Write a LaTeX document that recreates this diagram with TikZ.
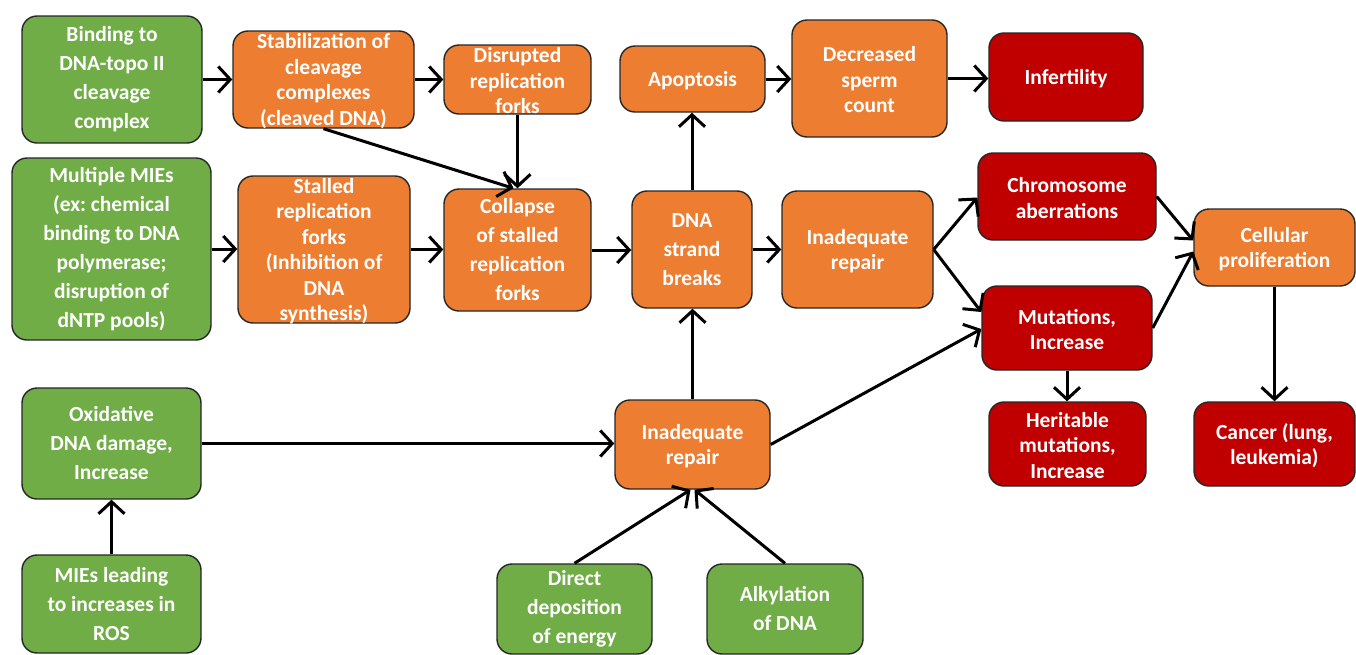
\documentclass[tikz,border=0pt]{standalone}
\usepackage{fontspec}
\setmainfont{Carlito}
\usetikzlibrary{arrows.meta}
\definecolor{grn}{HTML}{70AD47}
\definecolor{org}{HTML}{ED7D31}
\definecolor{rd}{HTML}{C00000}
\frenchspacing
\tikzset{
  box/.style={draw=black!85, line width=1.4pt, rounded corners=15pt, text=white,
    align=center, inner sep=0pt, font=\bfseries\fontsize{21.5}{25.5}\selectfont,
    tshift/.initial=-1.5pt},
  wide/.style={font=\bfseries\fontsize{21.5}{29}\selectfont},
  gbox/.style={box, fill=grn, wide, tshift=0pt},
  obox/.style={box, fill=org},
  rbox/.style={box, fill=rd},
  arr/.style={line width=3pt, -{Straight Barb[length=12pt,width=26pt]}},
}
% \bx{name}{style}{x1}{y1}{x2}{y2}{text}: box given by its corners,
% with its label set as a separate node named <name>-t
\newcommand\bx[7]{%
  \node[#2, minimum width={(#5-#3)*1pt}, minimum height={(#6-#4)*1pt}]
    (#1) at ({(#3+#5)/2},{(#4+#6)/2}) {};
  \node[#2, draw=none, fill=none, rounded corners=0pt,
    yshift=\pgfkeysvalueof{/tikz/tshift}] (#1-t) at (#1.center) {#7};}
\begin{document}
\begin{tikzpicture}[x=1pt,y=-1pt]
\useasboundingbox (0,0) rectangle (1356,654);
\clip (0,0) rectangle (1356,654);
% boxes
\bx{bind}{gbox}{22}{16}{202}{143}{Binding to\\DNA-topo II\\cleavage\\complex}
\bx{stab}{obox}{233}{31}{414}{128}{Stabilization of\\cleavage\\complexes\\(cleaved DNA)}
\bx{disr}{obox}{444}{45}{591}{114}{Disrupted\\replication\\forks}
\bx{apop}{obox}{620}{46}{765}{112}{Apoptosis}
\bx{sperm}{obox}{792}{20}{947}{137}{Decreased\\sperm\\count}
\bx{infer}{rbox}{989}{33}{1143}{121}{Infertility}
\bx{multi}{gbox}{12}{158}{211}{340}{Multiple MIEs\\(ex: chemical\\binding to DNA\\polymerase;\\disruption of\\dNTP pools)}
\bx{stall}{obox}{238}{176}{410}{323}{Stalled\\replication\\forks\\(Inhibition of\\DNA\\synthesis)}
\bx{coll}{obox,wide,tshift=0pt}{444}{189}{591}{311}{Collapse\\of stalled\\replication\\forks}
\bx{dsb}{obox,wide,tshift=0pt}{632}{191}{752}{308}{DNA\\strand\\breaks}
\bx{inad}{obox}{782}{191}{933}{308}{Inadequate\\repair}
\bx{chrom}{rbox}{978}{153}{1156}{240}{Chromosome\\aberrations}
\bx{mut}{rbox}{982}{286}{1152}{370}{Mutations,\\Increase}
\bx{cell}{obox}{1194}{209}{1355}{286}{Cellular\\proliferation}
\bx{herit}{rbox}{989}{402}{1146}{486}{Heritable\\mutations,\\Increase}
\bx{canc}{rbox}{1194}{402}{1355}{486}{Cancer (lung,\\leukemia)}
\bx{oxid}{gbox}{22}{388}{201}{499}{Oxidative\\DNA damage,\\Increase}
\bx{ros}{gbox}{22}{555}{201}{653}{MIEs leading\\to increases in\\ROS}
\bx{inadb}{obox}{615}{400}{770}{489}{Inadequate\\repair}
\bx{direct}{gbox}{497}{564}{652}{654}{Direct\\deposition\\of energy}
\bx{alk}{gbox}{707}{564}{863}{654}{Alkylation\\of DNA}
% connectors
\draw[arr] (bind.east) -- (bind.east -| stab.west);
\draw[arr] (stab.east) -- (stab.east -| disr.west);
\draw[arr] (stab.south) -- ([xshift=-4pt]coll.north);
\draw[arr] (disr.south) -- (coll.north);
\draw[arr] (multi.east) -- (multi.east -| stall.west);
\draw[arr] (stall.east) -- (stall.east -| coll.west);
\draw[arr] (coll.east) -- (coll.east -| dsb.west);
\draw[arr] (dsb.north) -- (dsb.north |- apop.south);
\draw[arr] (apop.east) -- (apop.east -| sperm.west);
\draw[arr] (sperm.east) -- (sperm.east -| infer.west);
\draw[arr] (dsb.east) -- (dsb.east -| inad.west);
\draw[arr] (inad.east) -- ([yshift=-1pt]chrom.west);
\draw[arr] (inad.east) -- ([yshift=16pt]mut.west);
\draw[arr] (chrom.east) -- ([yshift=7pt]cell.west);
\draw[arr] (mut.east) -- ([yshift=-4pt]cell.west);
\draw[arr] (cell.south) -- (cell.south |- canc.north);
\draw[arr] (mut.south) -- (mut.south |- herit.north);
\draw[arr] (oxid.east) -- (oxid.east -| inadb.west);
\draw[arr] (ros.north) -- (ros.north |- oxid.south);
\draw[arr] (inadb.north) -- (inadb.north |- dsb.south);
\draw[arr] (inadb.east) -- ([yshift=-1pt]mut.west);
\draw[arr] (direct.north) -- ([xshift=-2pt]inadb.south);
\draw[arr] (alk.north) -- ([xshift=2pt]inadb.south);
\end{tikzpicture}
\end{document}
